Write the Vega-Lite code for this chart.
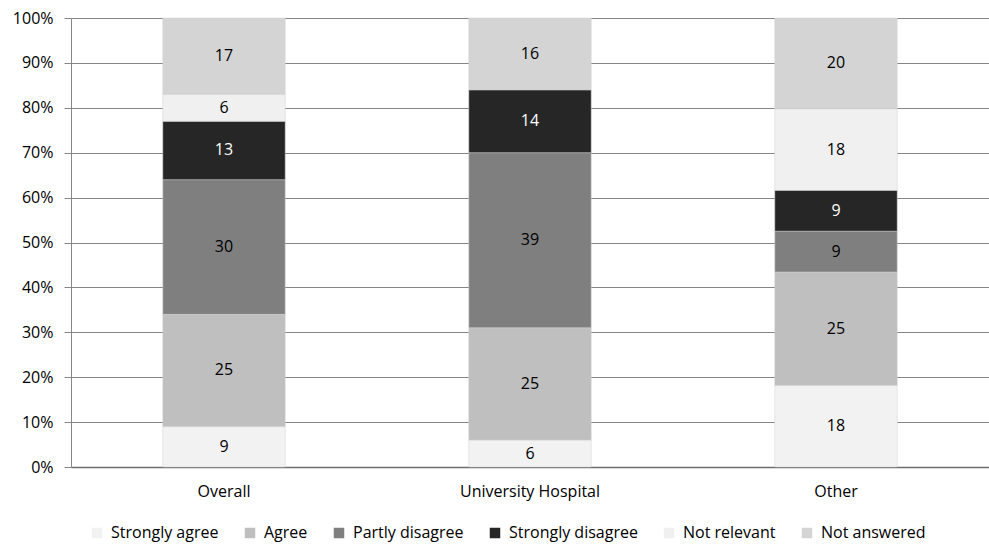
{
  "$schema": "https://vega.github.io/schema/vega-lite/v6.json",
  "width": 918,
  "height": 449,
  "autosize": {"type": "none"},
  "padding": {"left": 71, "top": 18, "right": 0, "bottom": 77},
  "background": "white",
  "config": {
    "view": {"stroke": null},
    "font": "Open Sans",
    "axis": {"labelFont": "Open Sans", "labelFontSize": 16, "labelColor": "#000000", "domainColor": "#868686", "tickColor": "#868686", "gridColor": "#868686", "title": null}
  },
  "data": {
    "values": [
      {"site": "Overall", "resp": "Strongly agree", "pct": 9},
      {"site": "Overall", "resp": "Agree", "pct": 25},
      {"site": "Overall", "resp": "Partly disagree", "pct": 30},
      {"site": "Overall", "resp": "Strongly disagree", "pct": 13},
      {"site": "Overall", "resp": "Not relevant", "pct": 6},
      {"site": "Overall", "resp": "Not answered", "pct": 17},
      {"site": "University Hospital", "resp": "Strongly agree", "pct": 6},
      {"site": "University Hospital", "resp": "Agree", "pct": 25},
      {"site": "University Hospital", "resp": "Partly disagree", "pct": 39},
      {"site": "University Hospital", "resp": "Strongly disagree", "pct": 14},
      {"site": "University Hospital", "resp": "Not answered", "pct": 16},
      {"site": "Other", "resp": "Strongly agree", "pct": 18},
      {"site": "Other", "resp": "Agree", "pct": 25},
      {"site": "Other", "resp": "Partly disagree", "pct": 9},
      {"site": "Other", "resp": "Strongly disagree", "pct": 9},
      {"site": "Other", "resp": "Not relevant", "pct": 18},
      {"site": "Other", "resp": "Not answered", "pct": 20}
    ]
  },
  "transform": [
    {"calculate": "indexof(['Strongly agree', 'Agree', 'Partly disagree', 'Strongly disagree', 'Not relevant', 'Not answered'], datum.resp)", "as": "rank"}
  ],
  "encoding": {
    "x": {
      "field": "site",
      "type": "nominal",
      "sort": ["Overall", "University Hospital", "Other"],
      "scale": {"paddingInner": 0.6, "paddingOuter": 0.3},
      "axis": {"labelAngle": 0, "ticks": false, "labelPadding": 16, "domainColor": "#6e6e6e", "domainWidth": 1.5}
    },
    "order": {"field": "rank", "type": "quantitative", "sort": "ascending"}
  },
  "layer": [
    {
      "mark": {"type": "bar", "stroke": "#d0d0d0", "strokeWidth": 0.5},
      "encoding": {
        "y": {
          "field": "pct",
          "type": "quantitative",
          "stack": "normalize",
          "scale": {"domain": [0, 1]},
          "axis": {"values": [0, 0.1, 0.2, 0.3, 0.4, 0.5, 0.6, 0.7, 0.8, 0.9, 1], "format": ".0%", "tickSize": 7, "labelPadding": 11, "grid": true, "gridWidth": 1}
        },
        "color": {
          "field": "resp",
          "type": "nominal",
          "sort": ["Strongly agree", "Agree", "Partly disagree", "Strongly disagree", "Not relevant", "Not answered"],
          "scale": {
            "domain": ["Strongly agree", "Agree", "Partly disagree", "Strongly disagree", "Not relevant", "Not answered"],
            "range": ["#f2f2f2", "#bfbfbf", "#7f7f7f", "#262626", "#f0f0f0", "#d4d4d4"]
          },
          "legend": {
            "title": null,
            "orient": "none",
            "direction": "horizontal",
            "legendX": 18,
            "legendY": 507,
            "symbolType": "square",
            "symbolSize": 110,
            "symbolStrokeWidth": 0,
            "labelFont": "Open Sans",
            "labelFontSize": 16,
            "labelColor": "#000000",
            "labelOffset": 6,
            "columnPadding": 23
          }
        }
      }
    },
    {
      "mark": {"type": "text", "font": "Open Sans", "fontSize": 16, "baseline": "middle"},
      "encoding": {
        "y": {"field": "pct", "type": "quantitative", "stack": "normalize", "bandPosition": 0.5},
        "detail": {"field": "resp"},
        "text": {"field": "pct", "type": "quantitative"},
        "color": {
          "condition": {"test": "datum.resp === 'Strongly disagree'", "value": "#ffffff"},
          "value": "#000000"
        }
      }
    }
  ]
}
